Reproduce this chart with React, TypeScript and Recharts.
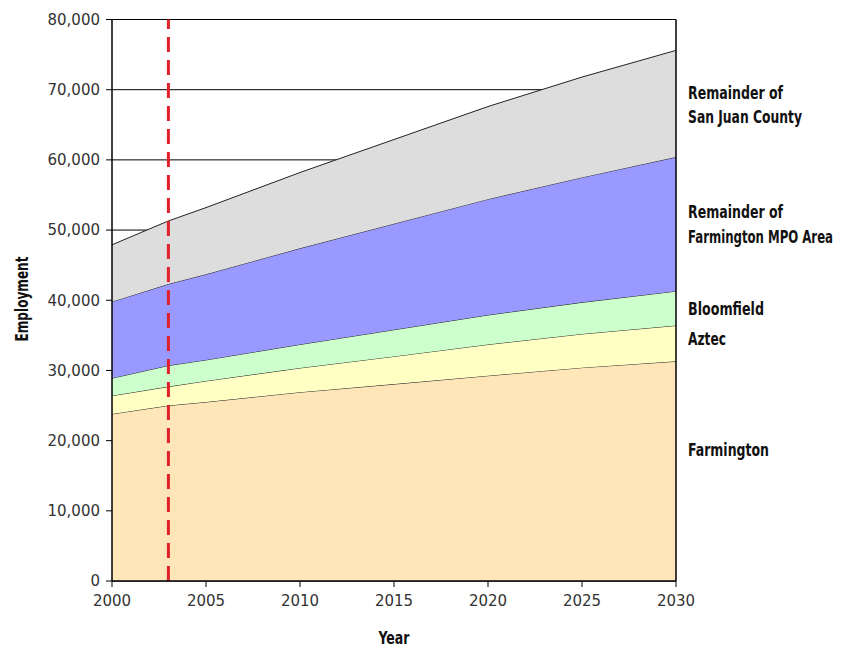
import React from "react";
import {
  ComposedChart,
  Area,
  XAxis,
  YAxis,
  CartesianGrid,
  ReferenceLine,
  Customized,
} from "recharts";

const years = [2000, 2003, 2005, 2010, 2015, 2020, 2025, 2030];
const farmington = [23800, 25000, 25500, 26900, 28050, 29250, 30400, 31300];
const aztec = [2600, 2700, 3000, 3450, 3950, 4450, 4800, 5100];
const bloomfield = [2500, 3000, 3000, 3350, 3800, 4200, 4500, 4900];
const mpoRemainder = [10900, 11600, 12200, 13700, 15100, 16500, 17800, 19100];
const countyRemainder = [8100, 9000, 9500, 10800, 12000, 13200, 14300, 15200];

const xTicks = [2000, 2005, 2010, 2015, 2020, 2025, 2030];
const yTicks = [0, 10000, 20000, 30000, 40000, 50000, 60000, 70000, 80000];
const baseYear = 2003;

const data = years.map((y, i) => ({
  year: y,
  farmington: farmington[i],
  aztec: aztec[i],
  bloomfield: bloomfield[i],
  mpo: mpoRemainder[i],
  county: countyRemainder[i],
}));

const labelFont = "'DejaVu Sans Condensed', 'DejaVu Sans', sans-serif";
const tickStyle = { fontFamily: "'DejaVu Sans', Verdana, sans-serif", fontSize: 15, fill: "#333" };

const Lbl = ({ x, y, w, children, anchor, transform }: any) => (
  <text
    x={x}
    y={y}
    textLength={w}
    lengthAdjust="spacingAndGlyphs"
    textAnchor={anchor || "start"}
    transform={transform}
  >
    {children}
  </text>
);

const Labels = () => (
  <g fontFamily={labelFont} fontWeight="bold" fontSize={17} fill="#111">
    <Lbl x={680} y={91} w={95}>Remainder of</Lbl>
    <Lbl x={680} y={115} w={114}>San Juan County</Lbl>
    <Lbl x={680} y={210} w={95}>Remainder of</Lbl>
    <Lbl x={680} y={235} w={145}>Farmington MPO Area</Lbl>
    <Lbl x={680} y={307} w={76}>Bloomfield</Lbl>
    <Lbl x={680} y={337} w={38}>Aztec</Lbl>
    <Lbl x={680} y={448} w={81}>Farmington</Lbl>
    <Lbl x={386} y={636} w={31} anchor="middle">Year</Lbl>
    <Lbl x={20} y={291} w={85} anchor="middle" transform="rotate(-90 20 291)">Employment</Lbl>
  </g>
);

export default function App() {
  return (
    <div style={{ width: 829, height: 640 }}>
      <ComposedChart
        width={829}
        height={640}
        data={data}
        margin={{ top: 11.5, right: 161, bottom: 37, left: 30 }}
      >
        <CartesianGrid vertical={false} stroke="#000" strokeWidth={1} />
        <XAxis
          dataKey="year"
          type="number"
          domain={[2000, 2030]}
          ticks={xTicks}
          height={30}
          tickSize={6}
          tickMargin={8}
          tick={tickStyle}
          axisLine={{ stroke: "#000", strokeWidth: 1.5 }}
          tickLine={{ stroke: "#000" }}
        />
        <YAxis
          type="number"
          domain={[0, 80000]}
          ticks={yTicks}
          width={74}
          tickSize={6}
          tickMargin={6}
          tick={tickStyle}
          tickFormatter={(v: number) => v.toLocaleString("en-US")}
          axisLine={{ stroke: "#000", strokeWidth: 1.5 }}
          tickLine={{ stroke: "#000" }}
        />
        <Area type="linear" dataKey="farmington" stackId="a" fill="#FFE6B8" fillOpacity={1} stroke="#222" strokeWidth={1} isAnimationActive={false} />
        <Area type="linear" dataKey="aztec" stackId="a" fill="#FFFFC4" fillOpacity={1} stroke="#222" strokeWidth={1} isAnimationActive={false} />
        <Area type="linear" dataKey="bloomfield" stackId="a" fill="#CCFFCC" fillOpacity={1} stroke="#222" strokeWidth={1} isAnimationActive={false} />
        <Area type="linear" dataKey="mpo" stackId="a" fill="#9999FF" fillOpacity={1} stroke="#222" strokeWidth={1} isAnimationActive={false} />
        <Area type="linear" dataKey="county" stackId="a" fill="#DDDDDD" fillOpacity={1} stroke="#222" strokeWidth={1} isAnimationActive={false} />
        <ReferenceLine x={2030} stroke="#000" strokeWidth={1.5} />
        <ReferenceLine x={baseYear} stroke="#E0202A" strokeWidth={3} strokeDasharray="15 8" />
        <Customized component={Labels} />
      </ComposedChart>
    </div>
  );
}
